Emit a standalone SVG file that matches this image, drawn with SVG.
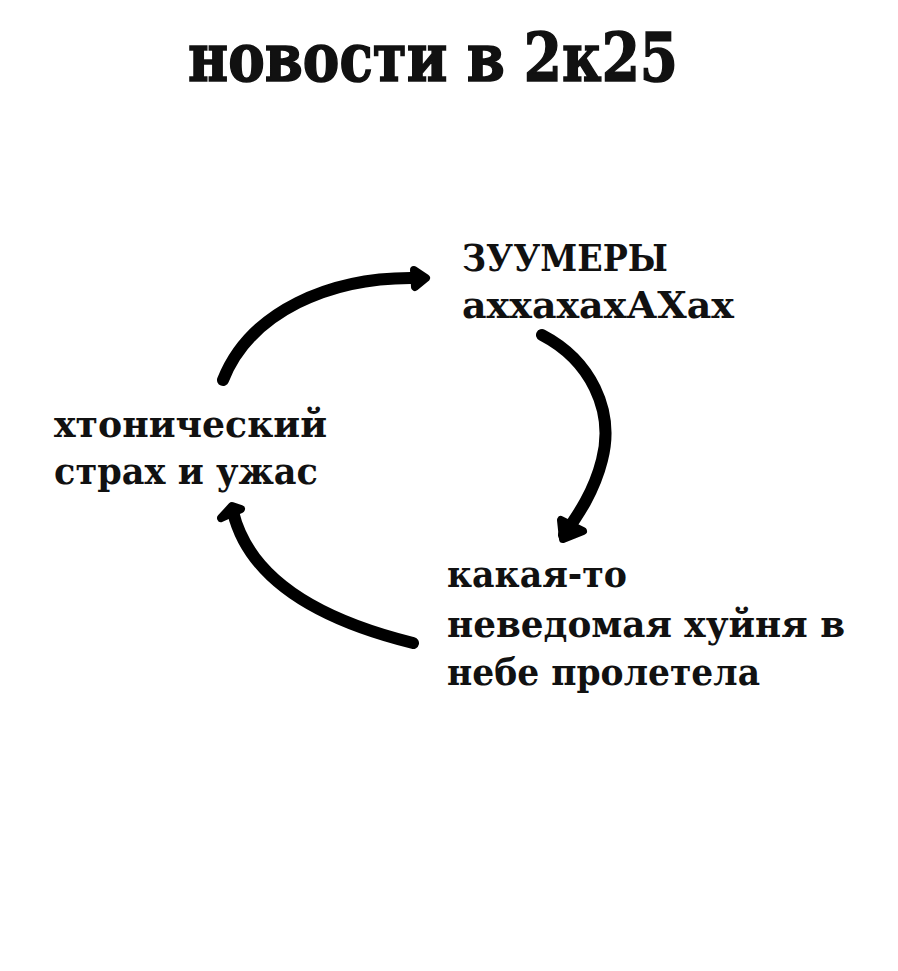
<svg xmlns="http://www.w3.org/2000/svg" width="898" height="971" viewBox="0 0 898 971">
<style>
text{font-family:"DejaVu Serif","Liberation Serif",serif;font-weight:bold;fill:#111}
.t{font-size:67px;stroke:#111;stroke-width:1.6}
.b{font-size:37px}
.c{fill:none;stroke:#000;stroke-width:12;stroke-linecap:round;stroke-linejoin:round}
.h{fill:#000;stroke:#000;stroke-width:8;stroke-linecap:round;stroke-linejoin:round}
</style>
<rect width="898" height="971" fill="#fff"/>
<g id="title"><text class="t" x="188" y="81" textLength="490" lengthAdjust="spacingAndGlyphs">новости в 2к25</text></g>
<g id="zoomers">
<text class="b" x="462" y="271" textLength="206" lengthAdjust="spacingAndGlyphs">ЗУУМЕРЫ</text>
<text class="b" x="462" y="318" textLength="272" lengthAdjust="spacingAndGlyphs">аххахахАХах</text>
</g>
<g id="ufo">
<text class="b" x="447" y="587" textLength="180" lengthAdjust="spacingAndGlyphs">какая-то</text>
<text class="b" x="447" y="637" textLength="398" lengthAdjust="spacingAndGlyphs">неведомая хуйня в</text>
<text class="b" x="447" y="685" textLength="313" lengthAdjust="spacingAndGlyphs">небе пролетела</text>
</g>
<g id="fear">
<text class="b" x="54" y="437" textLength="273" lengthAdjust="spacingAndGlyphs">хтонический</text>
<text class="b" x="54" y="484" textLength="264" lengthAdjust="spacingAndGlyphs">страх и ужас</text>
</g>
<g id="connectors">
<path class="c" d="M223,380 C250,312 330,276 418,278"/>
<path class="h" d="M414,270 L426,278 L415,287 Z"/>
<path class="c" d="M542,335 C590,360 615,410 602,460 C594,492 578,515 564,535"/>
<path class="h" d="M561,520 L563,539 L583,531 Z"/>
<path class="c" d="M413,643 C340,625 252,590 233,512"/>
<path class="h" d="M221,518 L232,506 L241,509 Z"/>
</g>
</svg>
